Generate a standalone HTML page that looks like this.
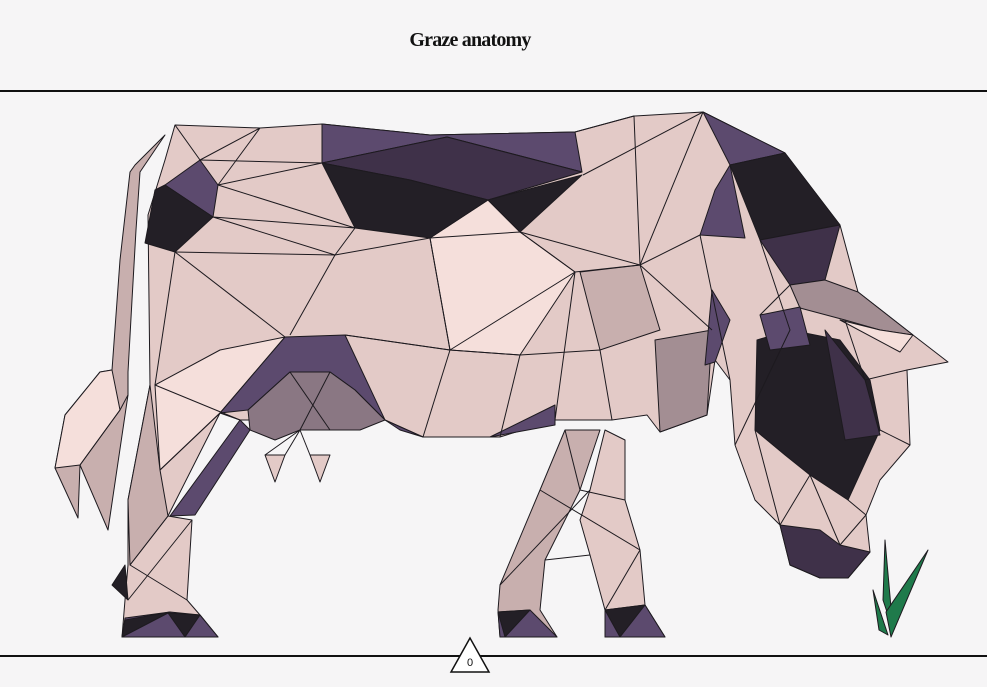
<!DOCTYPE html>
<html><head><meta charset="utf-8"><style>
html,body{margin:0;padding:0;background:#f6f5f6;}
#wrap{position:relative;width:987px;height:687px;overflow:hidden;background:#f6f5f6;}
h1{position:absolute;left:0;width:940px;top:29px;margin:0;text-align:center;font:bold 20px "Liberation Serif",serif;letter-spacing:-0.8px;color:#111;}
svg{position:absolute;left:0;top:0;}
</style></head><body>
<div id="wrap">
<h1>Graze anatomy</h1>
<svg id="s" width="987" height="687">
<line x1="0" y1="91" x2="987" y2="91" stroke="#111" stroke-width="2"/>
<line x1="0" y1="656" x2="987" y2="656" stroke="#111" stroke-width="2"/>
<g id="cow" stroke="#1d1a1f" stroke-width="1" stroke-linejoin="round"></g>
<polygon points="470,638 451,672 489,672" fill="#fff" stroke="#111" stroke-width="1.5"/>
<text x="470" y="666" font-family="Liberation Sans, sans-serif" font-size="11" text-anchor="middle" fill="#111">0</text>
</svg>
</div>
<script>
const shapeNames=['body','tail','front-leg-near','front-leg-far','neck-light','hip-triangle','back-patch-top','back-patch-mid','back-patch-dark','hip-patch-purple','hip-patch-dark','neck-purple','neck-dark','neck-lower','neck-sliver','head-grey','face-dark','face-purple','face-darkpurple','ear-light','muzzle','belly-purple','udder','belly-purple-2','belly-purple-3','hind-leg-strip','hind-leg-mauve','tail-tip','hoof-hind','hoof-hind-dark','hoof-hind-dark-2','hock-dark','hoof-front-1','hoof-front-1-dark','hoof-front-2','hoof-front-2-dark','teat-1','teat-2','shoulder-mauve','chest-grey','grass-a','grass-b','grass-c','chest-purple'];
const shapeFills=['#e3cac7','#c8afae','#c8afae','#e3cac7','#f5dfdb','#f5dfdb','#5c4a6e','#3f3149','#231f26','#5c4a6e','#231f26','#5c4a6e','#231f26','#3f3149','#5c4a6e','#a38e93','#231f26','#5c4a6e','#3f3149','#f5dfdb','#3f3149','#5c4a6e','#8a7783','#5c4a6e','#5c4a6e','#5c4a6e','#c8afae','#f5dfdb','#5c4a6e','#231f26','#231f26','#231f26','#5c4a6e','#231f26','#5c4a6e','#231f26','#e3cac7','#e3cac7','#c8afae','#a38e93','#1f7a4b','#1f7a4b','#1f7a4b','#5c4a6e'];
const shapePts=[
"175,125 260,128 322,124 430,135 575,132 634,116 703,112 785,153 840,225 858,292 913,335 948,362 907,370 910,445 880,480 866,515 870,552 848,578 820,578 790,565 780,525 755,500 735,445 730,380 715,360 707,415 660,432 647,415 612,420 555,420 500,437 423,437 385,420 345,395 300,430 260,420 240,420 220,413 168,516 192,520 187,600 200,615 218,637 122,637 125,600 128,565 128,500 150,385 148,215 165,160",
"135,165 165,135 140,172 136,230 132,300 128,372 128,395 108,530 80,465 78,518 55,468 65,415 100,372 112,370 120,260 130,172",
"565,430 600,430 580,490 545,560 540,610 557,637 500,637 498,610 500,585 540,490",
"605,430 625,440 625,500 640,550 645,605 665,637 605,637 605,610 590,555 580,520 590,490",
"430,238 488,200 520,232 575,272 520,355 450,350",
"155,385 220,350 285,337 220,413 160,470",
"322,124 430,135 575,132 582,172 447,137 322,163",
"322,163 447,137 582,172 488,200 410,180",
"322,163 410,180 488,200 582,175 520,232 488,200 430,238 355,228",
"165,185 200,160 218,185 213,217",
"165,185 213,217 175,252 145,243 155,190",
"703,112 785,153 730,165",
"730,165 785,153 840,225 760,240",
"760,240 840,225 825,280 790,285",
"715,190 730,165 745,238 700,235",
"790,285 825,280 858,292 913,335 880,330 845,320 800,308",
"757,340 790,330 840,340 870,380 880,430 848,500 810,475 785,455 755,430",
"760,315 800,307 810,345 770,350",
"825,330 865,380 880,435 845,440",
"840,320 880,330 913,335 900,352",
"780,525 790,565 820,578 848,578 870,552 840,545 820,530",
"285,337 345,335 385,420 355,390 330,372 290,372 248,410 220,413",
"248,410 290,372 330,372 355,390 385,420 360,430 330,430 300,430 275,440 250,430",
"385,420 423,437 400,430",
"490,437 555,405 555,425",
"240,420 250,430 195,515 170,516",
"128,500 150,385 160,470 168,516 130,565",
"65,415 100,372 112,370 120,410 80,465 55,468",
"125,618 170,612 200,615 218,637 122,637",
"122,637 170,612 125,620",
"168,613 200,615 185,637",
"112,585 125,565 128,600",
"498,612 530,610 557,637 500,637",
"498,612 530,610 505,637",
"605,610 645,605 665,637 605,637",
"605,610 645,605 620,637",
"265,455 285,455 275,482",
"310,455 330,455 320,482",
"580,272 640,265 660,330 600,350",
"655,340 712,330 707,415 660,432",
"885,540 893,630 883,600",
"928,550 891,637 886,612",
"873,590 888,635 879,630",
"712,290 730,320 715,362 705,365"];
const meshLines=[
"175,125 200,160 260,128 218,185 322,163","200,160 322,163","218,185 355,228 213,217 335,255 175,252","355,228 335,255 290,335","335,255 430,238 450,350 345,335","175,252 285,337","155,385 175,252","430,238 520,232 575,272 640,265 703,112","575,132 634,116 640,265","583,175 703,112","520,232 640,265 700,235","450,350 575,272 555,420","520,355 500,437","450,350 423,437","345,335 450,350 520,355 600,350 612,420","640,265 712,330","700,235 730,380","760,240 790,330 735,445","790,285 760,315","845,320 865,380 907,370","880,430 910,445","755,430 780,525 810,475 840,545 866,515","848,500 866,515","155,385 240,420","160,470 220,413","168,516 130,565 187,600","128,600 192,520","565,430 580,490 625,500","545,560 590,555","540,490 640,550","500,585 590,490","605,610 640,550","300,430 330,372","330,430 290,372","265,455 300,430 285,455","310,455 300,430","120,410 128,395","80,465 120,410"];
const g=document.getElementById('cow');
shapePts.forEach((p,i)=>{
 const el=document.createElementNS('http://www.w3.org/2000/svg','polygon');
 el.setAttribute('points',p);el.setAttribute('fill',shapeFills[i]);
 
 
 g.appendChild(el);
});
meshLines.forEach(p=>{
 const el=document.createElementNS('http://www.w3.org/2000/svg','polyline');
 el.setAttribute('points',p);el.setAttribute('fill','none');
 
 
 g.appendChild(el);
});
</script>
</body></html>
